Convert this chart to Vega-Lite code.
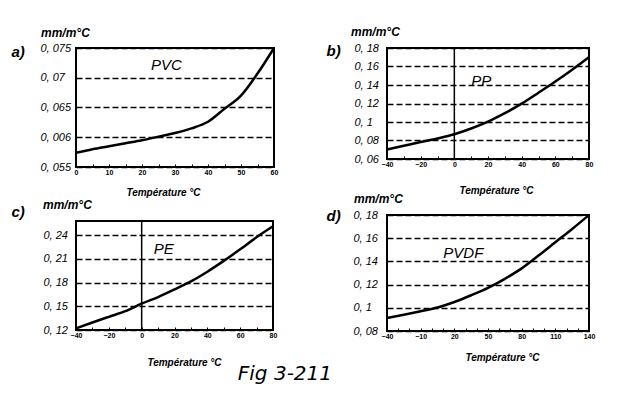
{
  "$schema": "https://vega.github.io/schema/vega-lite/v6.json",
  "background": "white",
  "padding": {"left": 10, "top": 24, "right": 5, "bottom": 5},
  "bounds": "full",
  "spacing": 45,
  "title": {"text": "Fig 3-211", "orient": "bottom", "anchor": "middle", "frame": "bounds", "dx": -18, "offset": 12, "font": "DejaVu Sans", "fontSize": 20, "fontStyle": "italic", "fontWeight": "normal", "color": "black", "baseline": "alphabetic"},
  "hconcat": [
    {
      "bounds": "flush",
      "spacing": 54,
      "vconcat": [
        {
          "width": 198, "height": 119,
          "title": {"text": "mm/m°C", "anchor": "start", "frame": "group", "dx": -35, "offset": -6.5, "baseline": "alphabetic", "fontSize": 12, "fontWeight": "bold", "fontStyle": "italic", "font": "Liberation Sans", "color": "black"},
          "layer": [
            {
              "data": {"values": [
                {"t": 0, "v": 0.0574}, {"t": 5, "v": 0.058}, {"t": 10, "v": 0.0585}, {"t": 15, "v": 0.059},
                {"t": 20, "v": 0.0595}, {"t": 25, "v": 0.0601}, {"t": 30, "v": 0.0607}, {"t": 35, "v": 0.0615},
                {"t": 40, "v": 0.0626}, {"t": 45, "v": 0.0648}, {"t": 50, "v": 0.067}, {"t": 55, "v": 0.0707},
                {"t": 60, "v": 0.075}
              ]},
              "mark": {"type": "line", "color": "black", "strokeWidth": 2.5, "interpolate": "monotone"},
              "encoding": {
                "x": {"field": "t", "type": "quantitative", "scale": {"domain": [0, 60], "nice": false, "zero": false},
                  "axis": {"title": "Température °C", "titleX": 87, "titleY": 28, "tickCount": 100, "labelOverlap": false, "format": "d", "values": [0, 5, 10, 15, 20, 25, 30, 35, 40, 45, 50, 55, 60], "labelExpr": "datum.value % 10 == 0 ? datum.label : ''"}},
                "y": {"field": "v", "type": "quantitative", "scale": {"domain": [0.055, 0.075], "nice": false, "zero": false},
                  "axis": {"title": "a)", "titleX": -65, "titleY": 8, "tickCount": 100, "labelOverlap": false, "values": [0.055, 0.06, 0.065, 0.07, 0.075], "format": "~g", "labelExpr": "datum.value == 0.06 ? '0, 006' : replace(datum.label, '.', ', ')", "labelPadding": 36}}
              }
            },
            {
              "data": {"values": [{"name": "PVC", "t": 27.4, "v": 0.0722}]},
              "mark": {"type": "text", "fontSize": 15, "fontStyle": "italic", "font": "Liberation Sans", "color": "black"},
              "encoding": {"x": {"field": "t", "type": "quantitative"}, "y": {"field": "v", "type": "quantitative"}, "text": {"field": "name"}}
            }
          ]
        },
        {
          "width": 197, "height": 109,
          "title": {"text": "mm/m°C", "anchor": "start", "frame": "group", "dx": -33, "offset": -17, "baseline": "alphabetic", "fontSize": 12, "fontWeight": "bold", "fontStyle": "italic", "font": "Liberation Sans", "color": "black"},
          "layer": [
            {
              "data": {"values": [
                {"t": -40, "v": 0.122}, {"t": -30, "v": 0.1295}, {"t": -20, "v": 0.1367}, {"t": -10, "v": 0.1438},
                {"t": 0, "v": 0.1533}, {"t": 10, "v": 0.1617}, {"t": 20, "v": 0.1713}, {"t": 30, "v": 0.1815},
                {"t": 40, "v": 0.1938}, {"t": 50, "v": 0.2075}, {"t": 60, "v": 0.2221}, {"t": 70, "v": 0.2375},
                {"t": 80, "v": 0.2513}
              ]},
              "mark": {"type": "line", "color": "black", "strokeWidth": 2.5, "interpolate": "monotone"},
              "encoding": {
                "x": {"field": "t", "type": "quantitative", "scale": {"domain": [-40, 80], "nice": false, "zero": false},
                  "axis": {"title": "Température °C", "titleX": 108, "titleY": 35, "tickCount": 100, "labelOverlap": false, "format": "d", "values": [-40, -30, -20, -10, 0, 10, 20, 30, 40, 50, 60, 70, 80], "labelExpr": "datum.value % 20 == 0 ? datum.label : ''"}},
                "y": {"field": "v", "type": "quantitative", "scale": {"domain": [0.12, 0.258], "nice": false, "zero": false},
                  "axis": {"title": "c)", "titleX": -65, "titleY": -5, "tickCount": 100, "labelOverlap": false, "values": [0.12, 0.15, 0.18, 0.21, 0.24], "format": "~g", "labelExpr": "replace(datum.label, '.', ', ')", "labelPadding": 33}}
              }
            },
            {
              "data": {"values": [{"t": 0}]},
              "mark": {"type": "rule", "color": "black", "strokeWidth": 1.5},
              "encoding": {"x": {"field": "t", "type": "quantitative"}}
            },
            {
              "data": {"values": [{"name": "PE", "t": 13.4, "v": 0.222}]},
              "mark": {"type": "text", "fontSize": 15, "fontStyle": "italic", "font": "Liberation Sans", "color": "black"},
              "encoding": {"x": {"field": "t", "type": "quantitative"}, "y": {"field": "v", "type": "quantitative"}, "text": {"field": "name"}}
            }
          ]
        }
      ]
    },
    {
      "bounds": "flush",
      "spacing": 56,
      "vconcat": [
        {
          "width": 202, "height": 111,
          "title": {"text": "mm/m°C", "anchor": "start", "frame": "group", "dx": -36, "offset": -5.5, "baseline": "alphabetic", "fontSize": 12, "fontWeight": "bold", "fontStyle": "italic", "font": "Liberation Sans", "color": "black"},
          "layer": [
            {
              "data": {"values": [
                {"t": -40, "v": 0.0703}, {"t": -30, "v": 0.0743}, {"t": -20, "v": 0.0783}, {"t": -10, "v": 0.0822},
                {"t": 0, "v": 0.0868}, {"t": 10, "v": 0.093}, {"t": 20, "v": 0.1004}, {"t": 30, "v": 0.1095},
                {"t": 40, "v": 0.1198}, {"t": 50, "v": 0.1316}, {"t": 60, "v": 0.1437}, {"t": 70, "v": 0.1565},
                {"t": 80, "v": 0.17}
              ]},
              "mark": {"type": "line", "color": "black", "strokeWidth": 2.5, "interpolate": "monotone"},
              "encoding": {
                "x": {"field": "t", "type": "quantitative", "scale": {"domain": [-40, 80], "nice": false, "zero": false},
                  "axis": {"title": "Température °C", "titleX": 109, "titleY": 34, "tickCount": 100, "labelOverlap": false, "format": "d", "values": [-40, -30, -20, -10, 0, 10, 20, 30, 40, 50, 60, 70, 80], "labelExpr": "datum.value % 20 == 0 ? datum.label : ''"}},
                "y": {"field": "v", "type": "quantitative", "scale": {"domain": [0.06, 0.18], "nice": false, "zero": false},
                  "axis": {"title": "b)", "titleX": -61, "titleY": 7, "tickCount": 100, "labelOverlap": false, "values": [0.06, 0.08, 0.1, 0.12, 0.14, 0.16, 0.18], "format": "~g", "labelExpr": "replace(datum.label, '.', ', ')", "labelPadding": 33}}
              }
            },
            {
              "data": {"values": [{"t": 0}]},
              "mark": {"type": "rule", "color": "black", "strokeWidth": 1.5},
              "encoding": {"x": {"field": "t", "type": "quantitative"}}
            },
            {
              "data": {"values": [{"name": "PP", "t": 16, "v": 0.1444}]},
              "mark": {"type": "text", "fontSize": 15, "fontStyle": "italic", "font": "Liberation Sans", "color": "black"},
              "encoding": {"x": {"field": "t", "type": "quantitative"}, "y": {"field": "v", "type": "quantitative"}, "text": {"field": "name"}}
            }
          ]
        },
        {
          "width": 202, "height": 116,
          "title": {"text": "mm/m°C", "anchor": "start", "frame": "group", "dx": -33, "offset": -7, "baseline": "alphabetic", "fontSize": 12, "fontWeight": "bold", "fontStyle": "italic", "font": "Liberation Sans", "color": "black"},
          "layer": [
            {
              "data": {"values": [
                {"t": -40, "v": 0.0912}, {"t": -25, "v": 0.094}, {"t": -10, "v": 0.097}, {"t": 5, "v": 0.1002},
                {"t": 20, "v": 0.105}, {"t": 35, "v": 0.1108}, {"t": 50, "v": 0.1172}, {"t": 65, "v": 0.125},
                {"t": 80, "v": 0.134}, {"t": 95, "v": 0.145}, {"t": 110, "v": 0.1565}, {"t": 125, "v": 0.168},
                {"t": 140, "v": 0.18}
              ]},
              "mark": {"type": "line", "color": "black", "strokeWidth": 2.5, "interpolate": "monotone"},
              "encoding": {
                "x": {"field": "t", "type": "quantitative", "scale": {"domain": [-40, 140], "nice": false, "zero": false},
                  "axis": {"title": "Température °C", "titleX": 115, "titleY": 29, "tickCount": 100, "labelOverlap": false, "format": "d", "values": [-40, -30, -20, -10, 0, 10, 20, 30, 40, 50, 60, 70, 80, 90, 100, 110, 120, 130, 140], "labelExpr": "(datum.value + 40) % 30 == 0 ? datum.label : ''"}},
                "y": {"field": "v", "type": "quantitative", "scale": {"domain": [0.08, 0.18], "nice": false, "zero": false},
                  "axis": {"title": "d)", "titleX": -61, "titleY": 5, "tickCount": 100, "labelOverlap": false, "values": [0.08, 0.1, 0.12, 0.14, 0.16, 0.18], "format": "~g", "labelExpr": "replace(datum.label, '.', ', ')", "labelPadding": 34}}
              }
            },
            {
              "data": {"values": [{"name": "PVDF", "t": 28, "v": 0.1475}]},
              "mark": {"type": "text", "fontSize": 15, "fontStyle": "italic", "font": "Liberation Sans", "color": "black"},
              "encoding": {"x": {"field": "t", "type": "quantitative"}, "y": {"field": "v", "type": "quantitative"}, "text": {"field": "name"}}
            }
          ]
        }
      ]
    }
  ],
  "config": {
    "view": {"stroke": "black", "strokeWidth": 2},
    "axisX": {"grid": false, "domain": false, "ticks": true, "tickSize": -3, "tickColor": "black", "tickWidth": 1, "labelFont": "Liberation Sans", "labelFontSize": 7, "labelFontWeight": "bold", "labelColor": "black", "labelPadding": 4.5, "labelFlush": false, "titleFont": "Liberation Sans", "titleFontSize": 10, "titleFontWeight": "bold", "titleFontStyle": "italic", "titleColor": "black", "titleAlign": "center", "titleBaseline": "alphabetic", "titleAngle": 0},
    "axisY": {"grid": true, "gridColor": "black", "gridDash": [6, 3], "gridWidth": 1.3, "gridOpacity": 1, "domain": false, "ticks": false, "labelAlign": "left", "labelFont": "Liberation Sans", "labelFontSize": 11, "labelFontStyle": "italic", "labelColor": "black", "labelFlush": false, "titleFont": "Liberation Sans", "titleFontSize": 15, "titleFontWeight": "bold", "titleFontStyle": "italic", "titleColor": "black", "titleAngle": 0, "titleAlign": "left", "titleBaseline": "alphabetic"}
  }
}
